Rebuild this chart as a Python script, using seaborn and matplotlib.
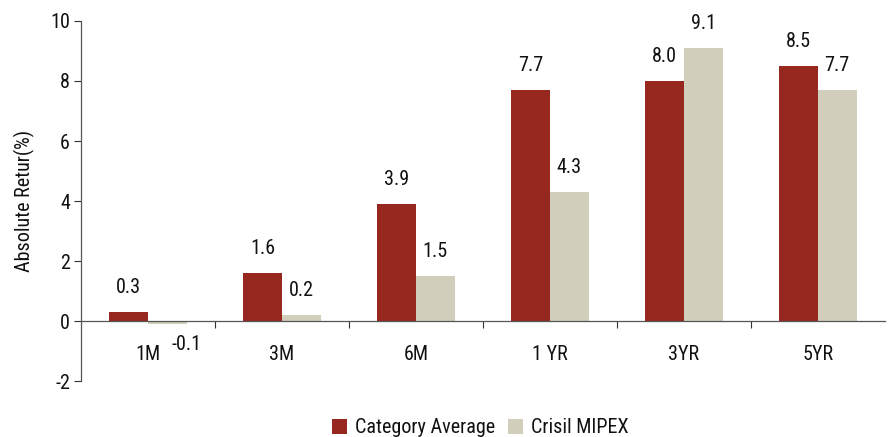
import matplotlib
matplotlib.use("Agg")
import matplotlib.pyplot as plt
import seaborn as sns
import pandas as pd
from matplotlib.font_manager import fontManager

periods = ["1M", "3M", "6M", "1 YR", "3YR", "5YR"]
category_average = [0.3, 1.6, 3.9, 7.7, 8.0, 8.5]
crisil_mipex = [-0.1, 0.2, 1.5, 4.3, 9.1, 7.7]
series_names = ["Category Average", "Crisil MIPEX"]
y_ticks = [-2, 0, 2, 4, 6, 8, 10]

sns.set_style("white")
names = {f.name for f in fontManager.ttflist}
family = [f for f in ["Roboto Condensed", "Liberation Sans Narrow", "Roboto", "DejaVu Sans"] if f in names]
plt.rcParams["font.family"] = family
FS = 14.5
plt.rcParams["font.size"] = FS
TXT = "#111111"

df = pd.DataFrame({
    "Period": periods * 2,
    "Value": category_average + crisil_mipex,
    "Series": [series_names[0]] * len(periods) + [series_names[1]] * len(periods),
})

fig = plt.figure(figsize=(8.9, 4.37), dpi=100)
ax = fig.add_axes([0.091, 0.128, 0.903, 0.824])

palette = {series_names[0]: "#962820", series_names[1]: "#D1CFBC"}
sns.barplot(data=df, x="Period", y="Value", hue="Series", order=periods,
            hue_order=series_names, palette=palette, width=0.58,
            saturation=1, edgecolor="none", ax=ax)

# value labels above positive bars, below-right for negative ones
for cont in ax.containers:
    for bar in cont:
        h = bar.get_height()
        cx = bar.get_x() + bar.get_width() / 2
        if h >= 0:
            ax.text(cx, h + 0.5, f"{h:.1f}", ha="center", va="bottom", fontsize=FS, color=TXT)
        else:
            ax.text(cx + 0.14, h - 0.35, f"{h:.1f}", ha="center", va="top", fontsize=FS, color=TXT)

ax.set_ylim(-2, 10)
ax.set_xlim(-0.5, len(periods) - 0.5)
ax.set_yticks(y_ticks)
ax.set_yticklabels([str(t) for t in y_ticks], fontsize=FS, color=TXT)
ax.tick_params(axis="y", length=5, width=0.8, color="#333333", pad=3, left=True)

# x axis drawn on the zero line, ticks at group boundaries
ax.spines["bottom"].set_position(("data", 0))
ax.spines["top"].set_visible(False)
ax.spines["right"].set_visible(False)
for s in ["left", "bottom"]:
    ax.spines[s].set_color("#555555")
    ax.spines[s].set_linewidth(0.9)
ax.set_xticks([i + 0.5 for i in range(len(periods) - 1)])
ax.set_xticklabels([])
ax.tick_params(axis="x", which="major", length=5, width=0.8, color="#333333", direction="out", bottom=True)
ax.set_xticks(range(len(periods)), minor=True)
ax.set_xticklabels(periods, minor=True, fontsize=FS, color=TXT)
ax.tick_params(axis="x", which="minor", length=0, pad=17)

ax.set_xlabel("")
ax.set_ylabel("Absolute Retur(%)", fontsize=FS, labelpad=11, color=TXT)

handles, labels = ax.get_legend_handles_labels()
ax.legend(handles, labels, loc="center", bbox_to_anchor=(0.497, -0.13),
          ncol=2, frameon=False, fontsize=FS, handlelength=0.75, handleheight=0.75,
          columnspacing=0.65, handletextpad=0.4, borderaxespad=0, labelcolor=TXT)

fig.savefig("out.png", dpi=100)
